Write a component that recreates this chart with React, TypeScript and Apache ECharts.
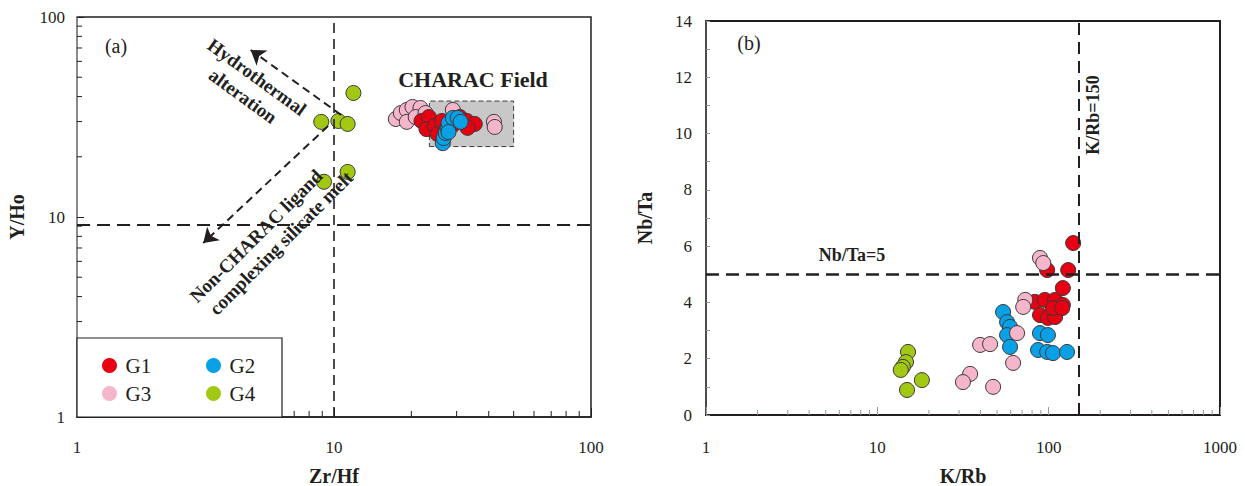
import React, { useEffect, useRef } from "react";
import * as echarts from "echarts";

// ---------- Panel (a): Zr/Hf vs Y/Ho ----------
const G1_ZrHf = [21.9, 23.4, 22.9, 24.7, 25.3, 26.3, 27.2, 30.9, 32.9, 35.3, 33.1, 29.0];
const G1_YHo = [30.2, 31.6, 27.5, 28.5, 26.0, 30.2, 27.2, 31.6, 30.2, 29.2, 27.9, 28.8];
const G2_ZrHf = [26.5, 26.7, 27.2, 27.7, 27.9, 29.0, 30.3, 31.1, 27.9];
const G2_YHo = [23.4, 24.8, 26.3, 27.9, 29.5, 31.3, 31.3, 29.9, 26.6];
const G3_ZrHf = [17.4, 18.2, 19.2, 20.2, 21.7, 19.2, 20.8, 22.7, 29.0, 41.9, 42.2];
const G3_YHo = [30.9, 33.1, 34.3, 35.5, 35.1, 29.9, 31.6, 33.1, 34.3, 29.9, 28.2];
const G4_ZrHf = [8.92, 10.4, 11.3, 11.9, 9.14, 11.3];
const G4_YHo = [29.9, 30.2, 29.2, 41.7, 15.0, 16.8];

// CHARAC field box [xMin, yMin, xMax, yMax]
const CHARAC_FIELD = [23.5, 22.5, 50, 38];
const ZRHF_LINE = 10;
const YHO_LINE = 9.1;
// arrows: [tailX, tailY, headX, headY]
const ARROW_HYDRO = [10.65, 32.4, 4.74, 68.4];
const ARROW_NONCHARAC = [9.48, 28.5, 3.1, 7.41];

// ---------- Panel (b): K/Rb vs Nb/Ta ----------
const G1_KRb = [83, 95, 109, 121, 89, 99, 109, 106, 120, 139, 130, 121, 98];
const G1_NbTa = [4.02, 4.09, 4.09, 3.91, 3.55, 3.45, 3.48, 3.8, 3.8, 6.11, 5.15, 4.51, 5.15];
const G2_KRb = [54.2, 57.2, 59.5, 57.2, 59.5, 89, 99, 86.7, 98, 106, 128];
const G2_NbTa = [3.66, 3.3, 3.13, 2.84, 2.42, 2.91, 2.84, 2.31, 2.24, 2.2, 2.24];
const G3_KRb = [89, 93, 73, 71, 39.8, 45.5, 65.4, 62, 34.8, 31.6, 47.4];
const G3_NbTa = [5.58, 5.4, 4.09, 3.84, 2.49, 2.52, 2.91, 1.85, 1.46, 1.17, 1.0];
const G4_KRb = [15.1, 14.7, 14.1, 13.7, 18.2, 14.9];
const G4_NbTa = [2.24, 1.88, 1.71, 1.6, 1.24, 0.89];

const KRB_LINE = 150;
const NBTA_LINE = 5;

// ---------- ticks ----------
const MINOR_A = [2, 3, 4, 5, 6, 7, 8, 9, 20, 30, 40, 50, 60, 70, 80, 90];
const MINOR_B = [2, 3, 4, 5, 6, 7, 8, 9, 20, 30, 40, 50, 60, 70, 80, 90, 200, 300, 400, 500, 600, 700, 800, 900];

const COLORS: Record<string, string> = {
  G1: "#e60012",
  G2: "#0aa0e6",
  G3: "#f5b5cb",
  G4: "#a2c814",
};

const SERIF = "Liberation Serif";
const INK = "#231f20";

const zip = (a: number[], b: number[]) => a.map((v, i) => [v, b[i]]);

function scatter(name: string, xi: number, data: number[][]) {
  return {
    type: "scatter",
    name,
    xAxisIndex: xi,
    yAxisIndex: xi,
    data,
    symbol: "circle",
    symbolSize: 15,
    z: 3,
    itemStyle: { color: COLORS[name], borderColor: "#3a3a3a", borderWidth: 1, opacity: 1 },
    emphasis: { disabled: true },
  };
}

function tickSeries(xi: number, vals: number[], orient: "x" | "y", anchor: number, len: number, color: string) {
  return {
    type: "custom",
    xAxisIndex: xi,
    yAxisIndex: xi,
    silent: true,
    z: 1,
    clip: false,
    data: vals.map((v) => (orient === "x" ? [v, anchor] : [anchor, v])),
    renderItem: (_p: any, api: any) => {
      const p = api.coord([api.value(0), api.value(1)]);
      return {
        type: "line",
        shape:
          orient === "x"
            ? { x1: p[0], y1: p[1], x2: p[0], y2: p[1] - len }
            : { x1: p[0], y1: p[1], x2: p[0] + len, y2: p[1] },
        style: { stroke: color, lineWidth: 1 },
      };
    },
  };
}

const dashed = (w: number, dash: number[]) => ({ type: dash, color: INK, width: w });
const plain = (v: number) => String(v);

export default function App() {
  const ref = useRef<HTMLDivElement>(null);

  useEffect(() => {
    const chart = echarts.init(ref.current!, null, { renderer: "svg" });

    const labelStyle = { fontFamily: SERIF, fontSize: 17, color: INK };
    const nameStyle = { fontFamily: SERIF, fontSize: 20, fontWeight: "bold", color: INK };

    const legendCommon = {
      orient: "horizontal",
      padding: 0,
      itemWidth: 22,
      itemHeight: 15,
      icon: "circle",
      selectedMode: false,
      z: 20,
      itemStyle: { borderWidth: 0 },
      textStyle: { fontFamily: SERIF, fontSize: 21, color: INK },
    };

    const bold = (size: number) => `bold ${size}px ${SERIF}`;
    const txt = (text: string, x: number, y: number, font: string, rotation = 0) => ({
      type: "text",
      x,
      y,
      rotation,
      z: 16,
      silent: true,
      style: { text, font, fill: INK, align: "center", verticalAlign: "middle" },
    });

    const option: any = {
      animation: false,
      backgroundColor: "#ffffff",
      grid: [
        { left: 77, top: 17, width: 514, height: 400, show: true, borderColor: INK, borderWidth: 1.5, backgroundColor: "transparent", containLabel: false, outerBoundsMode: "none" },
        { left: 706, top: 21, width: 514, height: 394, show: true, borderColor: INK, borderWidth: 2, backgroundColor: "transparent", containLabel: false, outerBoundsMode: "none" },
      ],
      xAxis: [
        {
          type: "log", logBase: 10, min: 1, max: 100, gridIndex: 0,
          name: "Zr/Hf", nameLocation: "middle", nameGap: 49, nameTextStyle: nameStyle,
          axisLine: { show: true, lineStyle: { color: INK, width: 1.5 } },
          axisTick: { show: true, inside: true, length: 9, lineStyle: { color: INK } },
          axisLabel: { ...labelStyle, margin: 22, formatter: plain },
          splitLine: { show: false },
        },
        {
          type: "log", logBase: 10, min: 1, max: 1000, gridIndex: 1,
          name: "K/Rb", nameLocation: "middle", nameGap: 51, nameTextStyle: nameStyle,
          axisLine: { show: true, lineStyle: { color: INK, width: 2 } },
          axisTick: { show: true, inside: true, length: 8, lineStyle: { color: "#9a9a9a" } },
          axisLabel: { ...labelStyle, margin: 24, formatter: plain },
          splitLine: { show: false },
        },
      ],
      yAxis: [
        {
          type: "log", logBase: 10, min: 1, max: 100, gridIndex: 0,
          name: "Y/Ho", nameLocation: "middle", nameGap: 50, nameTextStyle: nameStyle,
          axisLine: { show: true, lineStyle: { color: "#8a8a8a", width: 2 } },
          axisTick: { show: true, inside: true, length: 7, lineStyle: { color: INK } },
          axisLabel: { ...labelStyle, margin: 12, formatter: plain },
          splitLine: { show: false },
        },
        {
          type: "value", min: 0, max: 14, interval: 2, gridIndex: 1,
          name: "Nb/Ta", nameLocation: "middle", nameGap: 51, nameTextStyle: nameStyle,
          axisLine: { show: true, lineStyle: { color: "#4a4a4a", width: 2 } },
          axisTick: { show: true, inside: true, length: 4, lineStyle: { color: "#999" } },
          minorTick: { show: true, splitNumber: 2, length: 4, lineStyle: { color: "#999" } },
          axisLabel: { ...labelStyle, margin: 14 },
          splitLine: { show: false },
        },
      ],
      legend: [
        { ...legendCommon, data: ["G1"], left: 102, top: 355 },
        { ...legendCommon, data: ["G2"], left: 206, top: 355 },
        { ...legendCommon, data: ["G3"], left: 102, top: 383 },
        { ...legendCommon, data: ["G4"], left: 206, top: 383 },
      ],
      series: [
        tickSeries(0, MINOR_A, "x", 1, 6, INK),
        tickSeries(0, MINOR_A, "y", 1, 5, INK),
        tickSeries(1, MINOR_B, "x", 0, 5, "#9a9a9a"),
        {
          type: "scatter",
          xAxisIndex: 0,
          yAxisIndex: 0,
          data: [],
          silent: true,
          markArea: {
            silent: true,
            itemStyle: { color: "#c8c8c8", borderColor: "#3a3a3a", borderWidth: 1, borderType: [5, 3] },
            data: [[{ coord: [CHARAC_FIELD[0], CHARAC_FIELD[1]] }, { coord: [CHARAC_FIELD[2], CHARAC_FIELD[3]] }]],
          },
          markLine: {
            silent: true,
            symbol: "none",
            label: { show: false },
            data: [
              { xAxis: ZRHF_LINE, lineStyle: dashed(1.6, [10, 6]) },
              { yAxis: YHO_LINE, lineStyle: dashed(2, [13, 7]) },
              [
                { coord: [ARROW_HYDRO[0], ARROW_HYDRO[1]], symbol: "none", lineStyle: dashed(2, [8, 5]) },
                { coord: [ARROW_HYDRO[2], ARROW_HYDRO[3]], symbol: "arrow", symbolSize: 14 },
              ],
              [
                { coord: [ARROW_NONCHARAC[0], ARROW_NONCHARAC[1]], symbol: "none", lineStyle: dashed(2, [8, 5]) },
                { coord: [ARROW_NONCHARAC[2], ARROW_NONCHARAC[3]], symbol: "arrow", symbolSize: 14 },
              ],
            ],
          },
        },
        {
          type: "scatter",
          xAxisIndex: 1,
          yAxisIndex: 1,
          data: [],
          silent: true,
          markLine: {
            silent: true,
            symbol: "none",
            label: { show: false },
            data: [
              { xAxis: KRB_LINE, lineStyle: dashed(2, [12, 7]) },
              { yAxis: NBTA_LINE, lineStyle: dashed(2.5, [13, 7]) },
            ],
          },
        },
        scatter("G3", 0, zip(G3_ZrHf, G3_YHo)),
        scatter("G1", 0, zip(G1_ZrHf, G1_YHo)),
        scatter("G2", 0, zip(G2_ZrHf, G2_YHo)),
        scatter("G4", 0, zip(G4_ZrHf, G4_YHo)),
        scatter("G1", 1, zip(G1_KRb, G1_NbTa)),
        scatter("G2", 1, zip(G2_KRb, G2_NbTa)),
        scatter("G4", 1, zip(G4_KRb, G4_NbTa)),
        scatter("G3", 1, zip(G3_KRb, G3_NbTa)),
      ],
      graphic: [
        {
          type: "rect",
          z: 15,
          silent: true,
          shape: { x: 77, y: 338, width: 205, height: 79 },
          style: { fill: "#ffffff", stroke: INK, lineWidth: 1.2 },
        },
        txt("(a)", 116, 46, `20px ${SERIF}`),
        txt("CHARAC Field", 473, 79, bold(22)),
        txt("Hydrothermal", 257, 77, bold(19), -0.63),
        txt("alteration", 243, 96, bold(19), -0.63),
        txt("Non-CHARAC ligand", 256, 236, bold(19), Math.PI / 4),
        txt("complexing silicate melt", 281, 243, bold(19), Math.PI / 4),
        txt("(b)", 749, 43, `20px ${SERIF}`),
        txt("Nb/Ta=5", 852, 255, bold(18)),
        txt("K/Rb=150", 1093, 115, bold(18), Math.PI / 2),
      ],
    };
    chart.setOption(option);
    return () => chart.dispose();
  }, []);

  return (
    <div
      ref={ref}
      style={{ position: "fixed", left: 0, top: 0, width: 1245, height: 486, background: "#fff" }}
    />
  );
}
